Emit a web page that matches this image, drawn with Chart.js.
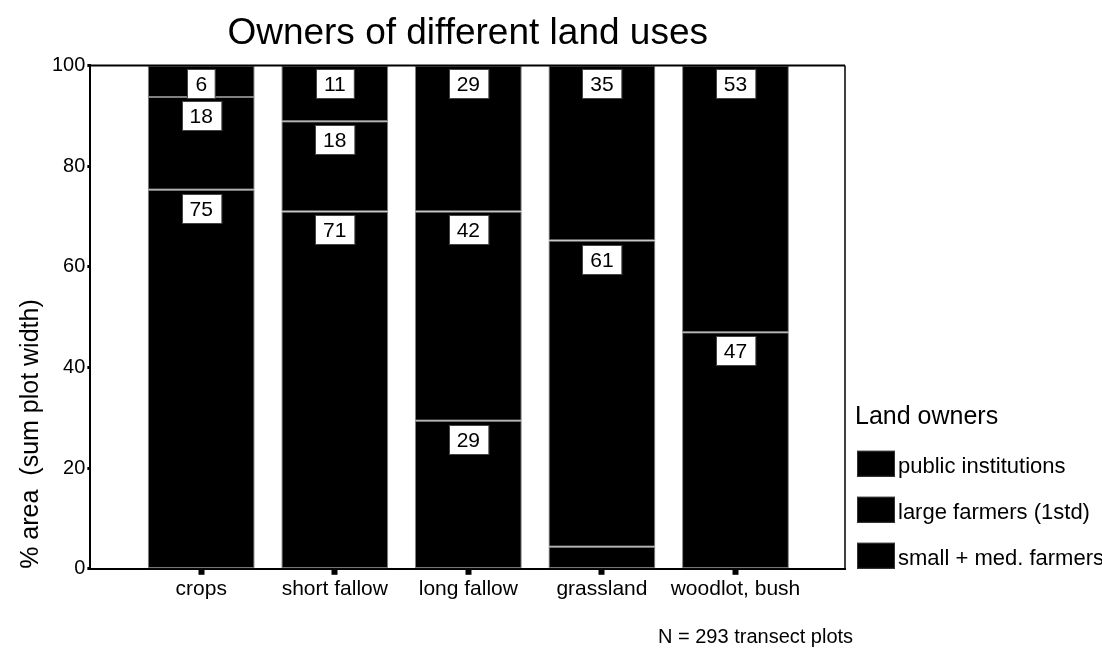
<!DOCTYPE html>
<html>
<head>
<meta charset="utf-8">
<script src="https://cdn.jsdelivr.net/npm/chart.js@4/dist/chart.umd.min.js"></script>
<style>
  html, body { margin: 0; padding: 0; background: #fff; }
  #wrap { width: 1102px; height: 650px; position: relative; }
</style>
</head>
<body>
<div id="wrap"><canvas id="myChart"></canvas></div>
<script>
const landUses = ["crops", "short fallow", "long fallow", "grassland", "woodlot, bush"];
// % area (bottom to top of each bar)
const smallMedFarmers = [75.3, 71.0, 29.4, 4.4, 47.0];
const largeFarmers = [18.4, 17.9, 41.6, 60.8, 0];
const publicInst = [6.3, 11.1, 29.0, 34.8, 53.0];
const yTicks = [0, 20, 40, 60, 80, 100];

const FONT = "'Liberation Sans', Arial, sans-serif";

function points(arr) {
  return arr.map((v, i) => ({ x: i, y: v }));
}

// white boxed value labels at the top of each segment
const valueLabels = {
  id: 'valueLabels',
  afterDatasetsDraw(chart) {
    const ctx = chart.ctx;
    ctx.save();
    ctx.font = "21px " + FONT;
    ctx.textAlign = 'center';
    ctx.textBaseline = 'middle';
    chart.data.datasets.forEach((ds, di) => {
      const meta = chart.getDatasetMeta(di);
      meta.data.forEach((bar, i) => {
        const v = ds.data[i].y;
        const top = Math.min(bar.y, bar.base);
        const h = Math.abs(bar.base - bar.y);
        const boxH = 29;
        if (h < boxH + 2) return;
        const txt = String(Math.round(v));
        const w = ctx.measureText(txt).width + 16;
        const bx = Math.round(bar.x - w / 2) + 0.5;
        const by = Math.round(top + 4) + 0.5;
        ctx.fillStyle = '#fff';
        ctx.fillRect(bx, by, w, boxH);
        ctx.strokeStyle = '#444';
        ctx.lineWidth = 1;
        ctx.strokeRect(bx, by, w, boxH);
        ctx.fillStyle = '#000';
        ctx.fillText(txt, bar.x, by + boxH / 2 + 1);
      });
    });
    ctx.restore();
  }
};

// top and right frame lines, legend and footnote
const frameAndLegend = {
  id: 'frameAndLegend',
  afterDraw(chart) {
    const ctx = chart.ctx;
    const a = chart.chartArea;
    ctx.save();
    ctx.strokeStyle = '#000';
    ctx.lineWidth = 2;
    ctx.beginPath();
    ctx.moveTo(a.left, a.top);
    ctx.lineTo(a.right, a.top);
    ctx.stroke();
    ctx.lineWidth = 1.5;
    ctx.beginPath();
    ctx.moveTo(a.right, a.top);
    ctx.lineTo(a.right, a.bottom);
    ctx.stroke();

    // legend
    const lx = a.right + 10;
    ctx.fillStyle = '#000';
    ctx.textAlign = 'left';
    ctx.textBaseline = 'alphabetic';
    ctx.font = "25px " + FONT;
    ctx.fillText("Land owners", lx, a.bottom - 145);
    ctx.font = "22px " + FONT;
    const items = chart.data.datasets.slice().reverse();
    items.forEach((ds, k) => {
      const by = a.bottom - 118 + k * 46;
      ctx.fillStyle = ds.backgroundColor;
      ctx.fillRect(lx + 2, by, 38, 26);
      ctx.strokeStyle = '#333';
      ctx.lineWidth = 1;
      ctx.strokeRect(lx + 2.5, by + 0.5, 37, 25);
      ctx.fillStyle = '#000';
      ctx.fillText(ds.label, lx + 43, by + 22);
    });

    // footnote
    ctx.font = "20px " + FONT;
    ctx.fillText("N = 293 transect plots", 658, 643);
    ctx.restore();
  }
};

const ctx = document.getElementById("myChart").getContext('2d');
const myChart = new Chart(ctx, {
  type: 'bar',
  data: {
    datasets: [
      { label: 'small + med. farmers', data: points(smallMedFarmers) },
      { label: 'large farmers (1std)', data: points(largeFarmers) },
      { label: 'public institutions', data: points(publicInst) }
    ].map(d => Object.assign(d, {
      backgroundColor: '#000',
      borderColor: '#808080',
      borderWidth: 1,
      borderSkipped: false,
      categoryPercentage: 0.8,
      barPercentage: 1
    }))
  },
  options: {
    responsive: true,
    maintainAspectRatio: false,
    animation: false,
    layout: { padding: { left: 16, right: 257, top: 0, bottom: 46 } },
    plugins: {
      legend: { display: false },
      tooltip: { enabled: false },
      title: {
        display: true,
        text: 'Owners of different land uses',
        fullSize: false,
        color: '#000',
        font: { family: FONT, size: 37, weight: 'normal' },
        padding: { top: 12, bottom: 9 }
      }
    },
    scales: {
      x: {
        type: 'linear',
        stacked: true,
        offset: false,
        min: -0.83,
        max: 4.82,
        afterBuildTicks: (scale) => {
          scale.ticks = landUses.map((c, i) => ({ value: i }));
        },
        ticks: {
          autoSkip: false,
          maxRotation: 0,
          padding: 2,
          color: '#000',
          font: { family: FONT, size: 21 },
          callback: (v) => landUses[v]
        },
        grid: {
          display: true,
          offset: false,
          drawOnChartArea: false,
          drawTicks: true,
          tickLength: 6,
          tickWidth: 6,
          tickColor: '#000'
        },
        border: { display: true, color: '#000', width: 2 }
      },
      y: {
        stacked: true,
        min: 0,
        max: 100,
        afterBuildTicks: (scale) => {
          scale.ticks = yTicks.map(v => ({ value: v }));
        },
        ticks: {
          padding: 2,
          color: '#000',
          font: { family: FONT, size: 20 }
        },
        grid: {
          display: true,
          drawOnChartArea: false,
          drawTicks: true,
          tickLength: 3,
          tickWidth: 3,
          tickColor: '#000'
        },
        border: { display: true, color: '#000', width: 2 },
        title: {
          display: true,
          text: '% area  (sum plot width)',
          align: 'start',
          color: '#000',
          font: { family: FONT, size: 25 },
          padding: { top: 0, bottom: 4 }
        }
      }
    }
  },
  plugins: [valueLabels, frameAndLegend]
});
</script>
</body>
</html>
